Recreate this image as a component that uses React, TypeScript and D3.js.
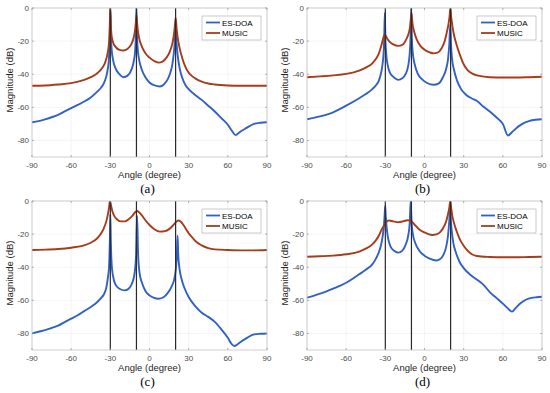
import React from 'react';
import * as d3 from 'd3';

type Pt = [number, number];

// angle (deg), magnitude (dB)
const musicA: Pt[] = [[-90,-47],[-80,-46.8],[-70,-46.2],[-60,-45.4],[-50,-43.4],[-45,-41.8],[-40,-39.4],[-36,-36],[-34,-33],[-32,-27],[-31,-21],[-30.5,-13],[-30,0],[-29.5,-12],[-29,-17],[-28,-20.5],[-26,-23.5],[-23,-25.3],[-20,-25.7],[-17,-24.8],[-14,-22],[-12,-17.5],[-11,-13],[-10.5,-9],[-10,-4.5],[-9.5,-9],[-9,-13],[-8,-18],[-6,-23],[-3,-27.5],[0,-30],[4,-32.2],[7,-33],[10,-32.4],[13,-30],[15.5,-26.5],[17.5,-21.5],[18.5,-17],[19.3,-12],[20,-5.8],[20.7,-12],[21.5,-17.5],[23,-24],[25,-30],[28,-36.5],[31,-40],[35,-42.5],[40,-44.5],[45,-45.6],[50,-46.2],[60,-46.8],[70,-47],[80,-47],[90,-47]];
const esdoaA: Pt[] = [[-90,-69],[-85,-68.3],[-80,-67.3],[-75,-66],[-70,-64.5],[-65,-62.5],[-60,-60.5],[-55,-58.5],[-50,-56.5],[-45,-54],[-40,-50.5],[-37,-48],[-35,-45.5],[-33,-41],[-32,-37],[-31,-30],[-30.5,-20],[-30,0],[-29.5,-18],[-29,-25],[-28,-31],[-26,-36.5],[-23,-40],[-20,-41.8],[-17,-41],[-14,-37.5],[-12,-32],[-11,-26],[-10.5,-18],[-10,0],[-9.5,-18],[-9,-25],[-8,-31],[-6,-37],[-3,-42],[0,-45],[4,-46.8],[8,-47.4],[11,-46.2],[14,-43],[16,-39],[17.5,-34],[18.5,-28],[19.3,-21],[20,-10],[20.7,-21],[21.5,-28],[23,-36],[25,-42],[27.5,-46.5],[30,-49],[35,-52.5],[40,-55.5],[45,-59],[50,-62.5],[55,-66.5],[60,-70.5],[63,-74],[66,-76.8],[69,-75],[74,-72.6],[80,-70],[85,-69.3],[90,-69]];

const musicB: Pt[] = [[-90,-41.8],[-80,-41.3],[-70,-40.7],[-60,-39.8],[-50,-37.8],[-45,-36],[-40,-33.4],[-37,-30.5],[-35,-27.5],[-33,-22.5],[-32,-19.5],[-31,-16.8],[-30.3,-16.3],[-29.5,-17],[-28.5,-18.6],[-27,-20.2],[-24,-22],[-20,-22.9],[-17,-22.3],[-14,-19],[-12,-15],[-11,-11],[-10.5,-7],[-10,-3.2],[-9.5,-7],[-9,-10.5],[-8,-14],[-6,-19],[-3,-23],[0,-25.2],[4,-26.8],[7,-27.4],[10,-27],[13,-24.5],[15.5,-20],[17,-15],[18.3,-10],[19.2,-5],[19.8,0],[20.4,-5],[21.2,-10],[22.5,-16],[24.5,-22],[27,-28],[30,-34],[33,-37.5],[37,-39.8],[42,-41],[50,-41.8],[60,-42],[70,-42],[80,-41.8],[90,-41.5]];
const esdoaB: Pt[] = [[-90,-67.2],[-80,-65.5],[-70,-63],[-60,-59],[-50,-54.5],[-45,-52],[-40,-49],[-37,-46.5],[-35,-44],[-33.5,-40],[-32.5,-36],[-31.5,-29],[-30.9,-20],[-30.4,-3],[-29.9,-20],[-29.3,-28],[-28.3,-34],[-26.5,-39],[-24,-41.5],[-20,-43.4],[-17,-42.5],[-14.5,-40],[-12.5,-35],[-11.5,-29],[-10.7,-18],[-10.2,0],[-9.7,-18],[-9,-27],[-7.5,-34],[-5,-40],[-2,-43],[2,-45.3],[7,-46.4],[11,-45.5],[14,-42],[16.5,-37],[18,-31],[19,-22],[19.7,-10],[20.3,-22],[21,-30],[22.5,-37],[25,-44],[28,-49],[32,-52.5],[36,-54.5],[40,-56],[45,-59.5],[50,-62.5],[55,-66],[60,-70],[64,-77],[67,-75],[72,-71.5],[76,-69.5],[80,-68.3],[85,-67.5],[90,-67.2]];

const musicC: Pt[] = [[-90,-29.6],[-80,-29.4],[-70,-29],[-60,-28.2],[-50,-26.8],[-45,-25.2],[-40,-22.5],[-37,-19.5],[-35,-16.5],[-33,-12],[-32,-8.5],[-31,-4],[-30.3,0],[-29.5,-2.5],[-28.5,-6],[-27,-9],[-25,-11],[-22,-12.3],[-19,-12.3],[-16,-11],[-13,-8.8],[-11,-6.8],[-9.5,-6],[-8,-6.8],[-6,-8.5],[-3,-11.8],[0,-14.5],[4,-17.2],[8,-18.5],[12,-18.2],[15,-17],[18,-14.8],[20,-13],[22,-11.8],[24,-12.5],[26,-14.5],[28,-17],[30,-19.5],[33,-22.3],[36,-24.8],[40,-26.8],[45,-28.5],[50,-29.2],[60,-29.6],[70,-29.8],[80,-29.8],[90,-29.6]];
const esdoaC: Pt[] = [[-90,-80],[-85,-79],[-80,-78],[-75,-76.7],[-70,-75.3],[-65,-73.2],[-60,-71.1],[-55,-69],[-50,-66.5],[-45,-64],[-40,-61],[-37,-58.5],[-35,-56.5],[-33,-52],[-32,-47],[-31,-40],[-30.4,-25],[-30,-8],[-29.6,-25],[-29,-38],[-28,-45],[-26,-50.5],[-23,-53],[-19,-54],[-16,-53],[-13.5,-50],[-11.5,-44],[-10.3,-33],[-9.5,-9],[-8.7,-33],[-7.5,-44],[-5.5,-50],[-3,-54.5],[0,-57],[3,-58.3],[7,-59],[11,-58],[14,-55.5],[17,-51.5],[19,-47],[20.3,-40],[21,-32],[21.5,-21],[22,-32],[23,-41],[24.5,-47],[27,-53],[30,-58],[35,-63.5],[40,-67.5],[45,-70],[50,-73],[55,-77.5],[60,-82.6],[63,-86.5],[65,-87.6],[67,-86.8],[70,-85],[75,-82.5],[80,-80.6],[85,-80.2],[90,-80]];

const musicD: Pt[] = [[-90,-33.7],[-80,-33.4],[-70,-33],[-60,-32.2],[-50,-30.6],[-45,-28.8],[-40,-26.2],[-37,-23.5],[-35,-21],[-33,-17.5],[-31,-14.8],[-30,-14],[-28.5,-12],[-27,-11.8],[-24,-12.3],[-20,-12.8],[-16,-12.2],[-13,-11.6],[-11,-11.8],[-9,-13],[-7,-14.8],[-4,-17.2],[0,-19],[3,-20],[6,-20.5],[9,-20.2],[12,-18.8],[14.5,-16],[16.5,-12.5],[18,-8],[19,-4],[19.7,0],[20.4,-4],[21.2,-8.5],[22.5,-13],[24.5,-18],[27,-23],[30,-27],[33,-30],[36,-32],[40,-33.2],[50,-33.8],[60,-34],[70,-34],[80,-33.8],[90,-33.7]];
const esdoaD: Pt[] = [[-90,-58.4],[-85,-57.3],[-80,-56],[-75,-54.6],[-70,-53],[-65,-51.3],[-60,-49.4],[-55,-47],[-50,-44.3],[-45,-41.5],[-40,-38.3],[-37,-34.5],[-35,-31],[-33,-25.5],[-32,-21],[-31,-14],[-30.5,-8],[-30.1,-3],[-29.7,-9],[-29,-16],[-28,-22],[-26,-27.5],[-23,-30.2],[-20,-31.2],[-17,-30],[-14.5,-26.5],[-12.5,-21],[-11.3,-13],[-10.6,0],[-9.9,-13],[-9,-19.5],[-7,-25.5],[-4,-30],[0,-33],[4,-34.8],[9,-35.9],[12,-35],[14.5,-32.5],[16.5,-28],[18,-21],[19,-12],[19.6,-5],[20.2,-12],[21,-19],[22,-25],[24,-31],[27,-37],[30,-40.5],[35,-44.5],[40,-47.4],[45,-50.5],[50,-55],[55,-58.5],[60,-62],[64,-65],[67,-66.8],[70,-64.5],[74,-61.5],[78,-59.5],[82,-58.5],[86,-58.1],[90,-57.8]];

const trueDoas = [-30, -10, 20];
const xTicks = [-90, -60, -30, 0, 30, 60, 90];
const yTicks = [0, -20, -40, -60, -80];
const seriesNames = ['ES-DOA', 'MUSIC'];
const seriesColors = ['#3161C4', '#A63C1C'];

const panels = [
  { tag: '(a)', left: 32, top: 8, esdoa: esdoaA, music: musicA },
  { tag: '(b)', left: 307, top: 8, esdoa: esdoaB, music: musicB },
  { tag: '(c)', left: 32, top: 201, esdoa: esdoaC, music: musicC },
  { tag: '(d)', left: 307, top: 201, esdoa: esdoaD, music: musicD },
];

const W = 235;
const H = 149;
const sans = 'Arial, "Liberation Sans", sans-serif';

const Panel = ({ p, i }: { p: typeof panels[number]; i: number }) => {
  const x = d3.scaleLinear().domain([-90, 90]).range([0, W]);
  const y = d3.scaleLinear().domain([-90, 0]).range([H, 0]);
  const line = d3.line<Pt>().x(d => x(d[0])).y(d => y(d[1])).curve(d3.curveMonotoneX);
  const clipId = `clip${i}`;

  return (
    <g transform={`translate(${p.left},${p.top})`}>
      <defs>
        <clipPath id={clipId}><rect x={0} y={0} width={W} height={H} /></clipPath>
      </defs>
      <rect x={0} y={0} width={W} height={H} fill="#fff" />
      {xTicks.map(t => (
        <line key={'gx' + t} x1={x(t)} x2={x(t)} y1={0} y2={H} stroke="#efefef" strokeWidth={0.6} />
      ))}
      {yTicks.map(t => (
        <line key={'gy' + t} x1={0} x2={W} y1={y(t)} y2={y(t)} stroke="#efefef" strokeWidth={0.6} />
      ))}
      <g clipPath={`url(#${clipId})`}>
        <path d={line(p.esdoa) || ''} fill="none" stroke={seriesColors[0]} strokeWidth={1.9} strokeLinejoin="round" />
        <path d={line(p.music) || ''} fill="none" stroke={seriesColors[1]} strokeWidth={1.9} strokeLinejoin="round" />
      </g>
      {trueDoas.map(t => (
        <line key={'doa' + t} x1={x(t)} x2={x(t)} y1={0} y2={H} stroke="#2a2a2a" strokeWidth={1.2} />
      ))}
      <rect x={0} y={0} width={W} height={H} fill="none" stroke="#c4c4c4" strokeWidth={0.8} />
      {xTicks.map(t => (
        <g key={'tx' + t}>
          <line x1={x(t)} x2={x(t)} y1={H} y2={H - 2} stroke="#888" strokeWidth={0.6} />
          <line x1={x(t)} x2={x(t)} y1={0} y2={2} stroke="#888" strokeWidth={0.6} />
          <text x={x(t)} y={H + 10.5} textAnchor="middle" fontSize={8} fill="#4d4d4d" fontFamily={sans}>{t}</text>
        </g>
      ))}
      {yTicks.map(t => (
        <g key={'ty' + t}>
          <line x1={0} x2={2} y1={y(t)} y2={y(t)} stroke="#888" strokeWidth={0.6} />
          <line x1={W} x2={W - 2} y1={y(t)} y2={y(t)} stroke="#888" strokeWidth={0.6} />
          <text x={-3} y={y(t) + 3} textAnchor="end" fontSize={8} fill="#4d4d4d" fontFamily={sans}>{t}</text>
        </g>
      ))}
      <text x={W / 2} y={H + 20.5} textAnchor="middle" fontSize={9.5} fill="#262626" fontFamily={sans}>Angle (degree)</text>
      <text transform={`translate(${-19},${72}) rotate(-90)`} textAnchor="middle" fontSize={9.5} fill="#262626" fontFamily={sans}>Magnitude (dB)</text>
      <text x={W / 2 - 2} y={H + 35.5} textAnchor="middle" fontSize={13} fill="#000" fontFamily='"Liberation Serif", "Times New Roman", serif'>{p.tag}</text>
      <g transform={`translate(${W - 65},8)`}>
        <rect x={0} y={0} width={59} height={24} fill="#fff" stroke="#a8a8a8" strokeWidth={0.6} />
        {seriesNames.map((n, k) => (
          <g key={n} transform={`translate(0,${6.5 + k * 10.5})`}>
            <line x1={4} x2={18} y1={0} y2={0} stroke={seriesColors[k]} strokeWidth={1.8} />
            <text x={20} y={3} fontSize={8} fill="#000" fontFamily={sans}>{n}</text>
          </g>
        ))}
      </g>
    </g>
  );
}

export default function App() {
  return (
    <svg width={550} height={393} style={{ display: 'block', position: 'absolute', left: 0, top: 0 }}>
      <rect width={550} height={393} fill="#fff" />
      {panels.map((p, i) => <Panel key={p.tag} p={p} i={i} />)}
    </svg>
  );
}
